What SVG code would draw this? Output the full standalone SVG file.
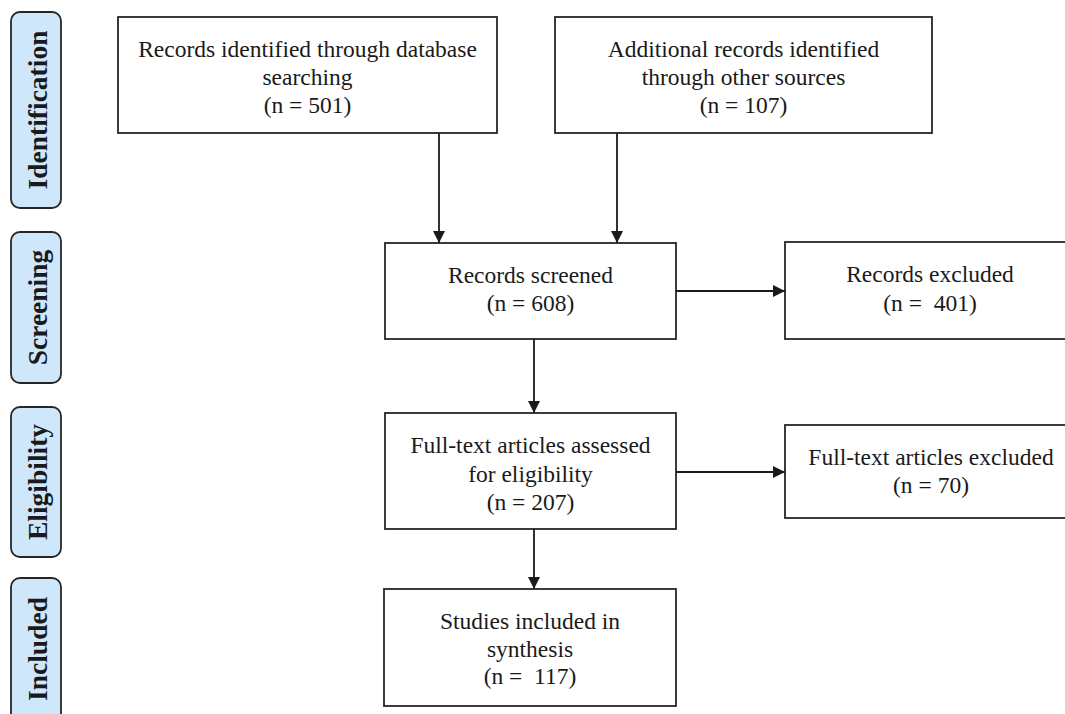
<svg xmlns="http://www.w3.org/2000/svg" width="1065" height="714" viewBox="0 0 1065 714">
<style>
.box{fill:#fff;stroke:#262626;stroke-width:1.8}
.phase{fill:#cfe7fa;stroke:#262626;stroke-width:1.8}
.t{font-family:"Liberation Serif","Times New Roman",serif;font-size:23.5px;fill:#1a1a1a;text-anchor:middle}
.p{font-family:"Liberation Serif","Times New Roman",serif;font-size:27.5px;font-weight:bold;fill:#1a1a1a;text-anchor:middle}
.c{fill:none;stroke:#1a1a1a;stroke-width:1.8}
</style>
<defs>
<marker id="ah" viewBox="0 0 12 12" refX="12" refY="6" markerWidth="12" markerHeight="12" markerUnits="userSpaceOnUse" orient="auto">
<path d="M0,0 L12,6 L0,12 Z" fill="#1a1a1a"/>
</marker>
</defs>
<rect width="1065" height="714" fill="#fff"/>
<g id="phase-identification"><rect class="phase" x="11" y="12" width="50" height="196" rx="9"/><text class="p" transform="translate(47,110) rotate(-90)">Identification</text></g>
<g id="phase-screening"><rect class="phase" x="11" y="232" width="50" height="151" rx="9"/><text class="p" transform="translate(47,307.5) rotate(-90)">Screening</text></g>
<g id="phase-eligibility"><rect class="phase" x="11" y="407" width="50" height="150" rx="9"/><text class="p" transform="translate(47,482) rotate(-90)">Eligibility</text></g>
<g id="phase-included"><rect class="phase" x="11" y="578" width="50" height="145" rx="9"/><text class="p" transform="translate(47,649) rotate(-90)">Included</text></g>
<g id="n-database"><rect class="box" x="118" y="17" width="379" height="116"/><text class="t" x="307.5" y="57">Records identified through database</text><text class="t" x="307.5" y="85">searching</text><text class="t" x="307.5" y="113">(n = 501)</text></g>
<g id="n-other"><rect class="box" x="555" y="17" width="377" height="116"/><text class="t" x="743.5" y="57">Additional records identified</text><text class="t" x="743.5" y="85">through other sources</text><text class="t" x="743.5" y="113">(n = 107)</text></g>
<g id="n-screened"><rect class="box" x="385" y="243" width="291" height="96"/><text class="t" x="530.5" y="283">Records screened</text><text class="t" x="530.5" y="311">(n = 608)</text></g>
<g id="n-excluded"><rect class="box" x="785" y="242" width="295" height="97"/><text class="t" x="930" y="282">Records excluded</text><text class="t" x="930" y="311" xml:space="preserve">(n =  401)</text></g>
<g id="n-assessed"><rect class="box" x="385" y="413" width="291" height="116"/><text class="t" x="530.5" y="453">Full-text articles assessed</text><text class="t" x="530.5" y="482">for eligibility</text><text class="t" x="530.5" y="510">(n = 207)</text></g>
<g id="n-ftexcluded"><rect class="box" x="785" y="425" width="295" height="93"/><text class="t" x="931" y="465">Full-text articles excluded</text><text class="t" x="931" y="493">(n = 70)</text></g>
<g id="n-included"><rect class="box" x="384" y="589" width="292" height="117"/><text class="t" x="530" y="629">Studies included in</text><text class="t" x="530" y="657">synthesis</text><text class="t" x="530" y="684" xml:space="preserve">(n =  117)</text></g>
<g id="connectors">
<line class="c" x1="439" y1="133" x2="439" y2="243" marker-end="url(#ah)"/>
<line class="c" x1="617" y1="133" x2="617" y2="243" marker-end="url(#ah)"/>
<line class="c" x1="676" y1="291" x2="785" y2="291" marker-end="url(#ah)"/>
<line class="c" x1="534" y1="339" x2="534" y2="413" marker-end="url(#ah)"/>
<line class="c" x1="676" y1="472" x2="785" y2="472" marker-end="url(#ah)"/>
<line class="c" x1="534" y1="529" x2="534" y2="589" marker-end="url(#ah)"/>
</g>
</svg>
